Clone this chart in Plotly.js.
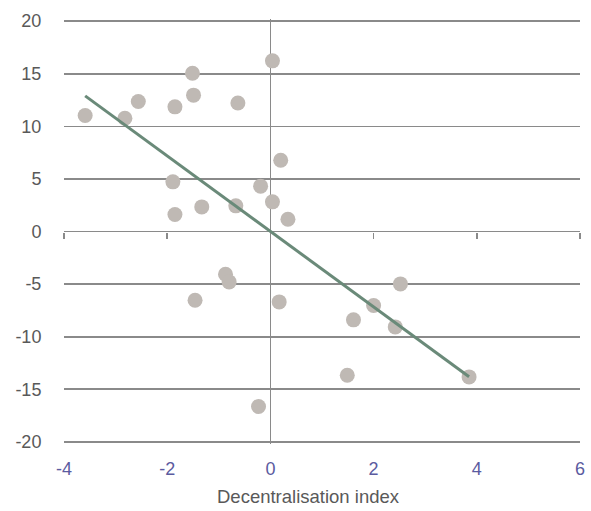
<!DOCTYPE html>
<html>
<head>
<meta charset="utf-8">
<script src="https://cdn.plot.ly/plotly-3.0.1.min.js"></script>
<style>html,body{margin:0;padding:0;background:#fff;}#chart{width:591px;height:511px;}</style>
</head>
<body>
<div id="chart"></div>
<script>
var xValues = [-3.59, -2.82, -2.56, -1.85, -1.51, -1.49, -0.63, 0.04, -1.89, -1.85, -1.33, -0.67, -0.19, 0.04, 0.20, 0.34, -0.87, -0.80, -1.46, 0.17, -0.23, 2.52, 2.00, 1.61, 2.42, 1.49, 3.85];
var yValues = [11.03, 10.77, 12.36, 11.85, 15.05, 12.96, 12.22, 16.22, 4.72, 1.61, 2.34, 2.44, 4.31, 2.82, 6.78, 1.17, -4.06, -4.79, -6.53, -6.69, -16.63, -4.98, -7.03, -8.40, -9.07, -13.66, -13.82];
var trendX = [-3.59, 3.85];
var trendY = [12.89, -13.80];
var xTicks = [-4, -2, 0, 2, 4, 6];
var yTicks = [-20, -15, -10, -5, 0, 5, 10, 15, 20];
var xTitle = "Decentralisation index";

var gridCol = '#8a8a8a';
var data = [
  {type: 'scatter', mode: 'markers', x: xValues, y: yValues,
   marker: {size: 15, color: '#bfb9b4'}, hoverinfo: 'none', showlegend: false},
  {type: 'scatter', mode: 'lines', x: trendX, y: trendY,
   line: {color: '#6a8a79', width: 3}, hoverinfo: 'none', showlegend: false},
  {type: 'scatter', mode: 'markers', x: [xTicks[0]], y: [0], xaxis: 'x2',
   marker: {opacity: 0}, hoverinfo: 'none', showlegend: false}
];
var layout = {
  width: 591, height: 511,
  margin: {l: 63.5, r: 11, t: 18.9, b: 66.9},
  paper_bgcolor: '#fff', plot_bgcolor: '#fff',
  font: {family: 'Liberation Sans, Arial, sans-serif'},
  showlegend: false,
  xaxis: {
    range: [-4, 6], tickvals: xTicks, ticktext: xTicks.map(String),
    showgrid: false, zeroline: true, zerolinecolor: gridCol, zerolinewidth: 1.6,
    showline: false, ticks: 'outside', ticklen: 8, tickcolor: 'rgba(0,0,0,0)',
    tickfont: {size: 18, color: '#5b5ba0'}
  },
  xaxis2: {
    overlaying: 'x', matches: 'x', anchor: 'free', position: 0.5, side: 'bottom',
    range: [-4, 6], tickvals: xTicks, showticklabels: false,
    showgrid: false, zeroline: false, showline: false,
    ticks: 'outside', ticklen: 6, tickwidth: 1.6, tickcolor: gridCol
  },
  yaxis: {
    range: [-20.2, 20.2], tickvals: yTicks, ticktext: yTicks.map(String),
    showgrid: true, gridcolor: gridCol, gridwidth: 1.6,
    zeroline: true, zerolinecolor: gridCol, zerolinewidth: 1.6,
    showline: false, ticks: 'outside', ticklen: 18, tickcolor: 'rgba(0,0,0,0)',
    tickfont: {size: 18, color: '#595959'}
  },
  annotations: [{
    text: xTitle, xref: 'paper', yref: 'paper', x: 0.473, y: -0.124,
    xanchor: 'center', yanchor: 'middle', showarrow: false,
    font: {size: 18.5, color: '#595959'}
  }]
};
Plotly.newPlot('chart', data, layout, {displayModeBar: false, staticPlot: true});
</script>
</body>
</html>
